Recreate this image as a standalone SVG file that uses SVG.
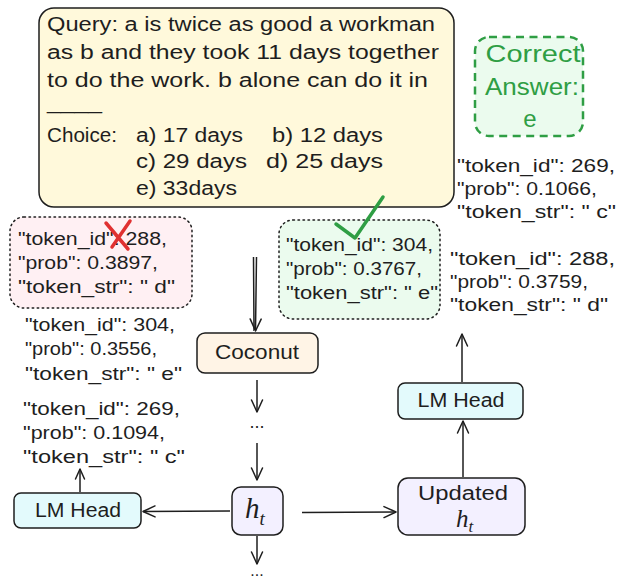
<svg xmlns="http://www.w3.org/2000/svg" width="618" height="581" viewBox="0 0 618 581">
<defs>
<style>
.t{font-family:"Liberation Sans","DejaVu Sans",sans-serif;fill:#1e1e1e}
.q{font-size:20px}
.j{font-size:18px}
.n{font-size:20px;text-anchor:middle}
.m{font-family:"Liberation Serif","DejaVu Serif",serif;font-style:italic;fill:#1e1e1e}
.box{stroke:#1e1e1e;stroke-width:1.5}
.dot{stroke:#1e1e1e;stroke-width:1.5;stroke-dasharray:1.5 3.5;stroke-linecap:round}
.c{fill:none;stroke:#1e1e1e;stroke-width:1.5}
</style>
<marker id="ah" viewBox="-13 -7 14 14" refX="0" refY="0" markerWidth="14" markerHeight="14" markerUnits="userSpaceOnUse" orient="auto">
<path d="M-12,-5.5 L0,0 L-12,5.5" fill="none" stroke="#1e1e1e" stroke-width="1.5" stroke-linecap="round" stroke-linejoin="round"/>
</marker>
<marker id="as" viewBox="-13 -7 14 14" refX="0" refY="0" markerWidth="14" markerHeight="14" markerUnits="userSpaceOnUse" orient="auto">
<path d="M-10,-4.5 L0,0 L-10,4.5" fill="none" stroke="#1e1e1e" stroke-width="1.5" stroke-linecap="round" stroke-linejoin="round"/>
</marker>
</defs>
<rect width="618" height="581" fill="#ffffff"/>

<g id="query">
<rect class="box" x="39" y="8" width="415" height="199" rx="15" fill="#fff9db"/>
<text class="t q" x="47" y="31" textLength="388" lengthAdjust="spacingAndGlyphs">Query: a is twice as good a workman</text>
<text class="t q" x="47" y="59" textLength="392" lengthAdjust="spacingAndGlyphs">as b and they took 11 days together</text>
<text class="t q" x="47" y="87" textLength="381" lengthAdjust="spacingAndGlyphs">to do the work. b alone can do it in</text>
<text class="t q" x="47" y="109" textLength="55" lengthAdjust="spacingAndGlyphs">____</text>
<text class="t q" y="142"><tspan x="47" textLength="70" lengthAdjust="spacingAndGlyphs">Choice:</tspan><tspan x="136" textLength="107" lengthAdjust="spacingAndGlyphs">a) 17 days</tspan><tspan x="272" textLength="111" lengthAdjust="spacingAndGlyphs">b) 12 days</tspan></text>
<text class="t q" y="168"><tspan x="136" textLength="111" lengthAdjust="spacingAndGlyphs">c) 29 days</tspan><tspan x="266" textLength="117" lengthAdjust="spacingAndGlyphs">d) 25 days</tspan></text>
<text class="t q" x="136" y="195" textLength="101" lengthAdjust="spacingAndGlyphs">e) 33days</text>
</g>

<g id="correct-answer">
<rect x="475" y="37" width="108" height="99" rx="14" fill="#ebfbee" stroke="#2f9e44" stroke-width="2.5" stroke-dasharray="8 5.5"/>
<text x="533" y="62" font-family="Liberation Sans, DejaVu Sans, sans-serif" font-size="24" fill="#2f9e44" text-anchor="middle" textLength="95" lengthAdjust="spacingAndGlyphs">Correct</text>
<text x="532" y="95" font-family="Liberation Sans, DejaVu Sans, sans-serif" font-size="24" fill="#2f9e44" text-anchor="middle" textLength="94" lengthAdjust="spacingAndGlyphs">Answer:</text>
<text x="530" y="127" font-family="Liberation Sans, DejaVu Sans, sans-serif" font-size="24" fill="#2f9e44" text-anchor="middle">e</text>
</g>

<g id="tokens-right-269">
<text class="t j" x="457" y="172" textLength="158" lengthAdjust="spacingAndGlyphs">"token_id": 269,</text>
<text class="t j" x="457" y="195" textLength="140" lengthAdjust="spacingAndGlyphs">"prob": 0.1066,</text>
<text class="t j" x="457" y="218" textLength="159" lengthAdjust="spacingAndGlyphs">"token_str": " c"</text>
</g>

<g id="tokens-right-288">
<text class="t j" x="450" y="265" textLength="165" lengthAdjust="spacingAndGlyphs">"token_id": 288,</text>
<text class="t j" x="450" y="288" textLength="138" lengthAdjust="spacingAndGlyphs">"prob": 0.3759,</text>
<text class="t j" x="450" y="311" textLength="158" lengthAdjust="spacingAndGlyphs">"token_str": " d"</text>
</g>

<g id="tokens-green">
<rect class="dot" x="279" y="220" width="161" height="99" rx="14" fill="#ebfbee"/>
<text class="t j" x="286" y="251" textLength="147" lengthAdjust="spacingAndGlyphs">"token_id": 304,</text>
<text class="t j" x="286" y="275" textLength="136" lengthAdjust="spacingAndGlyphs">"prob": 0.3767,</text>
<text class="t j" x="286" y="299" textLength="152" lengthAdjust="spacingAndGlyphs">"token_str": " e"</text>
<path d="M336,224 L355,238 L383,197" fill="none" stroke="#2f9e44" stroke-width="3.5" stroke-linecap="round" stroke-linejoin="round"/>
</g>

<g id="tokens-pink">
<rect class="dot" x="10" y="217" width="182" height="91" rx="14" fill="#fff0f3"/>
<text class="t j" x="18" y="245" textLength="149" lengthAdjust="spacingAndGlyphs">"token_id": 288,</text>
<text class="t j" x="18" y="269" textLength="140" lengthAdjust="spacingAndGlyphs">"prob": 0.3897,</text>
<text class="t j" x="18" y="293" textLength="157" lengthAdjust="spacingAndGlyphs">"token_str": " d"</text>
<path d="M106,223 L128,249 M130,221 L112,247" fill="none" stroke="#e03131" stroke-width="3.5" stroke-linecap="round"/>
</g>

<g id="tokens-left-304">
<text class="t j" x="25" y="331" textLength="150" lengthAdjust="spacingAndGlyphs">"token_id": 304,</text>
<text class="t j" x="25" y="355" textLength="132" lengthAdjust="spacingAndGlyphs">"prob": 0.3556,</text>
<text class="t j" x="25" y="380" textLength="157" lengthAdjust="spacingAndGlyphs">"token_str": " e"</text>
</g>

<g id="tokens-left-269">
<text class="t j" x="23" y="415" textLength="157" lengthAdjust="spacingAndGlyphs">"token_id": 269,</text>
<text class="t j" x="23" y="439" textLength="142" lengthAdjust="spacingAndGlyphs">"prob": 0.1094,</text>
<text class="t j" x="23" y="463" textLength="162" lengthAdjust="spacingAndGlyphs">"token_str": " c"</text>
</g>

<g id="coconut">
<rect class="box" x="197" y="333" width="121" height="40" rx="8" fill="#fff4e6"/>
<text class="t n" x="257" y="359" textLength="84" lengthAdjust="spacingAndGlyphs">Coconut</text>
</g>

<g id="ht">
<rect class="box" x="232" y="487" width="51" height="48" rx="9" fill="#f3f0ff"/>
<text class="m" x="245" y="518" font-size="29">h<tspan font-size="19" dy="7">t</tspan></text>
</g>

<g id="lm-head-left">
<rect class="box" x="14" y="493" width="127" height="35" rx="7" fill="#e3fafc"/>
<text class="t n" x="78" y="517" textLength="86" lengthAdjust="spacingAndGlyphs">LM Head</text>
</g>

<g id="updated-ht">
<rect class="box" x="398" y="478" width="127" height="57" rx="10" fill="#f3f0ff"/>
<text class="t n" x="463" y="500" font-size="19" textLength="90" lengthAdjust="spacingAndGlyphs">Updated</text>
<text class="m" x="456" y="527" font-size="25">h<tspan font-size="17" dy="5">t</tspan></text>
</g>

<g id="lm-head-right">
<rect class="box" x="398" y="383" width="125" height="36" rx="7" fill="#e3fafc"/>
<text class="t n" x="461" y="407" textLength="87" lengthAdjust="spacingAndGlyphs">LM Head</text>
</g>

<g id="ellipses">
<text class="t" x="257" y="428" font-size="18" text-anchor="middle">...</text>
<text class="t" x="257" y="576" font-size="16" text-anchor="middle">...</text>
</g>

<g id="connectors">
<path class="c" d="M253.5,257 L254,331 M256.5,257 L255.5,331" marker-end="url(#ah)"/>
<path class="c" d="M257,380 L257,412" marker-end="url(#ah)"/>
<path class="c" d="M257,443 L257,480" marker-end="url(#ah)"/>
<path class="c" d="M257,536 L257,564" marker-end="url(#ah)"/>
<path class="c" d="M230,511 L143,511.5" marker-end="url(#ah)"/>
<path class="c" d="M80,492 L80,469" marker-end="url(#as)"/>
<path class="c" d="M302,512.5 L396,512" marker-end="url(#ah)"/>
<path class="c" d="M463,477 L463,421" marker-end="url(#ah)"/>
<path class="c" d="M462,382 L462,334" marker-end="url(#ah)"/>
</g>
</svg>
